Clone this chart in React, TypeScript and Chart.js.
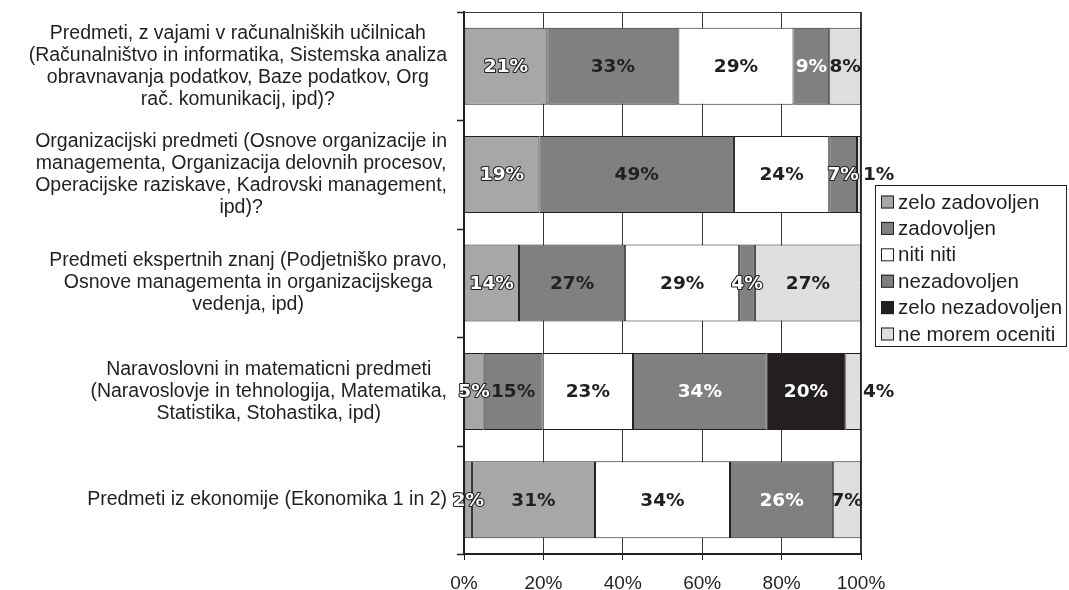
import React, { useEffect, useRef } from "react";
import { Chart, registerables } from "chart.js";
Chart.register(...registerables);

// ---------- DATA ----------
const categoryLines: string[][] = [
  [
    "Predmeti, z vajami v računalniških učilnicah",
    "(Računalništvo in informatika, Sistemska analiza",
    "obravnavanja podatkov, Baze podatkov, Org",
    "rač. komunikacij, ipd)?",
  ],
  [
    "Organizacijski predmeti (Osnove organizacije in",
    "managementa, Organizacija delovnih procesov,",
    "Operacijske raziskave, Kadrovski management,",
    "ipd)?",
  ],
  [
    "Predmeti ekspertnih znanj (Podjetniško pravo,",
    "Osnove managementa in organizacijskega",
    "vedenja, ipd)",
  ],
  [
    "Naravoslovni in matematicni predmeti",
    "(Naravoslovje in tehnologija, Matematika,",
    "Statistika, Stohastika, ipd)",
  ],
  ["Predmeti iz ekonomije (Ekonomika 1 in 2)"],
];

const seriesNames = [
  "zelo zadovoljen",
  "zadovoljen",
  "niti niti",
  "nezadovoljen",
  "zelo nezadovoljen",
  "ne morem oceniti",
];

const zeloZadovoljen = [21, 19, 14, 5, 2];
const zadovoljen = [33, 49, 27, 15, 31];
const nitiNiti = [29, 24, 29, 23, 34];
const nezadovoljen = [9, 7, 4, 34, 26];
const zeloNezadovoljen = [0, 0, 0, 20, 0];
const neMoremOceniti = [8, 1, 27, 4, 7];

const xTickValues = [0, 20, 40, 60, 80, 100];

// ---------- STYLE ----------
const DARK = "#231f20";
const LIGHT_GREY = "#a7a7aa";
const MID_GREY = "#808080";
const seriesColors = [LIGHT_GREY, MID_GREY, "#ffffff", MID_GREY, DARK, "#dfdfe1"];

const allSeries = [zeloZadovoljen, zadovoljen, nitiNiti, nezadovoljen, zeloNezadovoljen, neMoremOceniti];
const rowTotals = categoryLines.map((_, i) => allSeries.reduce((s, arr) => s + arr[i], 0));

const PLOT_LEFT = 464;
const PLOT_TOP = 12;
const PLOT_BOTTOM = 554;
const W = 1069;
const H = 590;
const PLOT_RIGHT = 861;

function labelStyle(ds: number, value: number): "dark" | "white" | "outline" {
  if (ds === 0) return "outline";
  if (ds === 1 || ds === 2 || ds === 5) return "dark";
  if (ds === 3) return value < 8 ? "outline" : "white";
  return "white";
}

const framePlugin = {
  id: "frame",
  beforeDatasetsDraw(chart: any) {
    const { ctx, chartArea } = chart;
    ctx.save();
    ctx.strokeStyle = "#3a3a3a";
    ctx.lineWidth = 1;
    ctx.beginPath();
    ctx.moveTo(chartArea.left, chartArea.top + 0.5);
    ctx.lineTo(chartArea.right, chartArea.top + 0.5);
    ctx.moveTo(chartArea.right - 0.5, chartArea.top);
    ctx.lineTo(chartArea.right - 0.5, chartArea.bottom);
    ctx.stroke();
    ctx.restore();
  },
  afterDraw(chart: any) {
    const { ctx, chartArea } = chart;
    const yScale = chart.scales.y;
    const n = categoryLines.length;
    const band = (chartArea.bottom - chartArea.top) / n;
    ctx.save();
    // category tick marks on the left axis
    ctx.strokeStyle = DARK;
    ctx.lineWidth = 1.5;
    ctx.beginPath();
    for (let i = 0; i <= n; i++) {
      const y = Math.round(chartArea.top + band * i) + 0.5;
      ctx.moveTo(chartArea.left - 7, y);
      ctx.lineTo(chartArea.left, y);
    }
    ctx.stroke();

    // category labels
    ctx.fillStyle = DARK;
    ctx.font = '19.5px "Liberation Sans", Arial, sans-serif';
    ctx.textAlign = "center";
    ctx.textBaseline = "middle";
    const rightEdge = chartArea.left - 17;
    const lineH = 22;
    categoryLines.forEach((lines, i) => {
      const w = Math.max(...lines.map((l) => ctx.measureText(l).width));
      const cx = rightEdge - w / 2;
      const cy = yScale.getPixelForValue(i);
      const y0 = cy - ((lines.length - 1) * lineH) / 2;
      lines.forEach((l, k) => ctx.fillText(l, cx, y0 + k * lineH));
    });

    // legend
    const lx = 875, ly = 185, lw = 191, lh = 161;
    ctx.fillStyle = "#ffffff";
    ctx.fillRect(lx, ly, lw, lh);
    ctx.strokeStyle = DARK;
    ctx.lineWidth = 1;
    ctx.strokeRect(lx + 0.5, ly + 0.5, lw, lh);
    ctx.font = '20.5px "Liberation Sans", Arial, sans-serif';
    ctx.textAlign = "left";
    ctx.textBaseline = "middle";
    seriesNames.forEach((name, i) => {
      const cy = ly + 17 + i * 26.4;
      ctx.fillStyle = seriesColors[i];
      ctx.fillRect(881, cy - 6.5, 13, 13);
      ctx.strokeStyle = DARK;
      ctx.lineWidth = 1;
      ctx.strokeRect(881.5, cy - 6, 12, 12);
      ctx.fillStyle = DARK;
      ctx.fillText(name, 898, cy + 1);
    });
    ctx.restore();
  },
  afterDatasetsDraw(chart: any) {
    const { ctx } = chart;
    ctx.save();
    ctx.font = 'bold 18.5px "DejaVu Sans", sans-serif';
    ctx.textBaseline = "middle";
    ctx.lineJoin = "round";
    chart.data.datasets.forEach((ds: any, di: number) => {
      const meta = chart.getDatasetMeta(di);
      meta.data.forEach((el: any, i: number) => {
        const raw = allSeries[di][i];
        if (!raw) return;
        const p = el.getProps(["x", "base", "y"], true);
        const left = Math.min(p.x, p.base);
        const right = Math.max(p.x, p.base);
        const text = raw + "%";
        let x = (left + right) / 2;
        ctx.textAlign = "center";
        if (di === allSeries.length - 1 && right - left < 20) {
          ctx.textAlign = "left";
          x = right + 2;
        }
        const style = labelStyle(di, raw);
        if (style === "outline") {
          ctx.lineWidth = 2.2;
          ctx.strokeStyle = DARK;
          ctx.strokeText(text, x, p.y + 1);
          ctx.fillStyle = "#ffffff";
          ctx.fillText(text, x, p.y + 1);
        } else {
          ctx.fillStyle = style === "white" ? "#ffffff" : DARK;
          ctx.fillText(text, x, p.y + 1);
        }
      });
    });
    ctx.restore();
  },
};

export default function App() {
  const ref = useRef<HTMLCanvasElement | null>(null);
  useEffect(() => {
    document.body.style.margin = "0";
    const canvas = ref.current!;
    const datasets = allSeries.map((arr, di) => ({
      label: seriesNames[di],
      data: arr.map((v, i) => (v / rowTotals[i]) * 100),
      backgroundColor:
        di === 1
          ? arr.map((_, i) => (i === arr.length - 1 ? LIGHT_GREY : MID_GREY))
          : seriesColors[di],
      borderColor: DARK,
      borderWidth: 1,
      borderSkipped: false,
      categoryPercentage: 1,
      barPercentage: 0.71,
    }));
    const chart = new Chart(canvas, {
      type: "bar",
      data: {
        labels: categoryLines.map((l) => l.join(" ")),
        datasets,
      },
      options: {
        indexAxis: "y",
        responsive: false,
        animation: false,
        devicePixelRatio: 1,
        layout: {
          padding: { left: 0, top: PLOT_TOP, right: W - PLOT_RIGHT, bottom: 0 },
        },
        plugins: {
          legend: { display: false },
          tooltip: { enabled: false },
        },
        scales: {
          x: {
            stacked: true,
            min: 0,
            max: 100,
            afterBuildTicks: (s: any) => {
              s.ticks = xTickValues.map((v) => ({ value: v }));
            },
            afterFit: (s: any) => {
              s.height = H - PLOT_BOTTOM;
            },
            ticks: {
              callback: (v: any) => v + "%",
              color: DARK,
              font: { family: '"Liberation Sans", Arial, sans-serif', size: 19 },
              padding: 12,
              maxRotation: 0,
            },
            grid: {
              color: "#3a3a3a",
              lineWidth: 1,
              drawTicks: true,
              tickLength: 6,
              tickColor: DARK,
            },
            border: { color: DARK, width: 2 },
          },
          y: {
            stacked: true,
            afterFit: (s: any) => {
              s.width = PLOT_LEFT;
            },
            ticks: { display: false },
            grid: { display: false },
            border: { color: DARK, width: 2 },
          },
        },
      },
      plugins: [framePlugin],
    } as any);
    return () => chart.destroy();
  }, []);
  return <canvas ref={ref} width={W} height={H} style={{ display: "block" }} />;
}
